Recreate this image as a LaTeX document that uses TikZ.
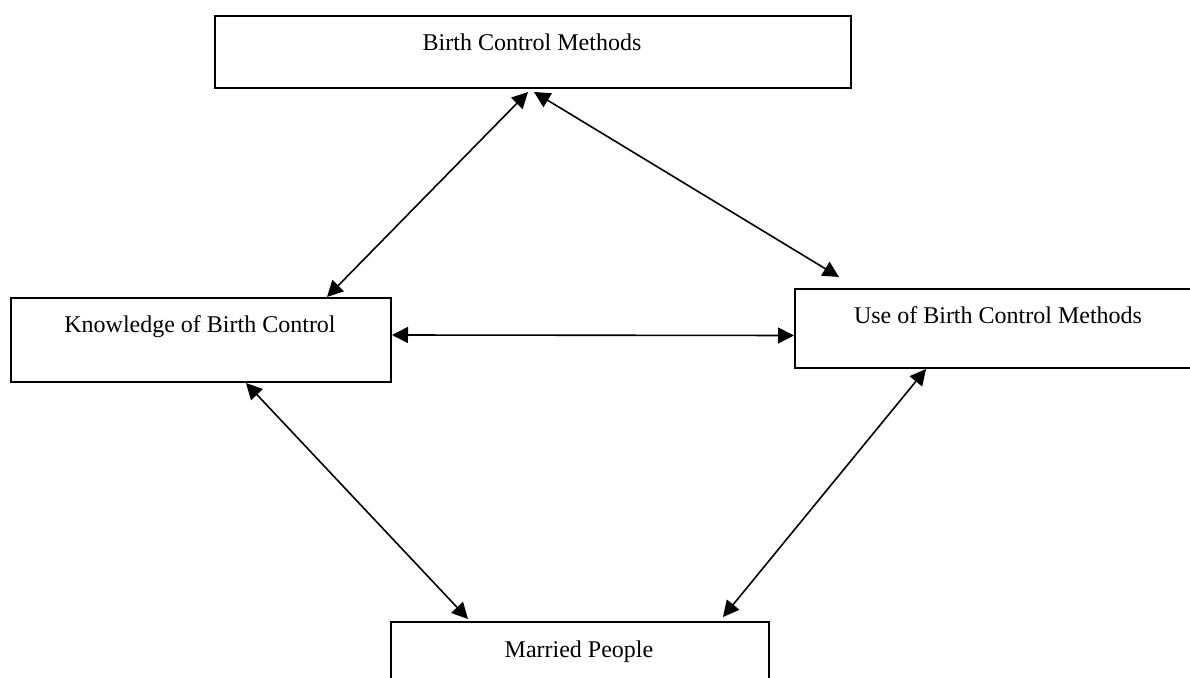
\documentclass[tikz,border=0pt]{standalone}
\usepackage{fontspec}
\setmainfont{Liberation Serif}
\usetikzlibrary{arrows.meta}
\begin{document}
\begin{tikzpicture}[x=0.5pt,y=-0.5pt,
  box/.style={draw, line width=1pt, inner sep=0pt, anchor=north west},
  lbl/.style={font=\fontsize{12}{14}\selectfont, inner sep=0pt},
  link/.style={line width=0.8pt, {Triangle[length=8pt,width=8pt]}-{Triangle[length=8pt,width=8pt]}}]
\useasboundingbox (0,0) rectangle (1190,678);
\clip (0,0) rectangle (1190,678);
% boxes
\node[box, minimum width=318pt, minimum height=36pt] (bcm) at (214,15) {};
\node[box, minimum width=190pt, minimum height=42pt] (kbc) at (10,297) {};
\node[box, minimum width=204pt, minimum height=39.5pt] (use) at (794,288) {};
\node[box, minimum width=189pt, minimum height=50pt] (mp) at (390,621) {};
% labels
\node[lbl] (tbcm) at (532,42) {Birth Control Methods};
\node[lbl] (tkbc) at (200,327) {Knowledge of Birth Control};
\node[lbl] (tuse) at (998,315) {Use of Birth Control Methods};
\node[lbl] (tmp) at (579,652) {Married People};
% connectors
\draw[link] ([xshift=-2.5pt,yshift=-1.5pt]bcm.south) -- ([xshift=63pt]kbc.north);
\draw[link] ([xshift=0.5pt,yshift=-1.5pt]bcm.south) -- ([xshift=-80pt,yshift=5.5pt]use.north);
\draw[link] ([yshift=2.5pt]kbc.east) -- ([yshift=-3.5pt]use.west);
\draw[link] ([xshift=22.5pt]kbc.south) -- ([xshift=-56pt,yshift=1pt]mp.north);
\draw[link] ([xshift=-36.5pt]use.south) -- ([xshift=71.5pt,yshift=2pt]mp.north);
\end{tikzpicture}
\end{document}
